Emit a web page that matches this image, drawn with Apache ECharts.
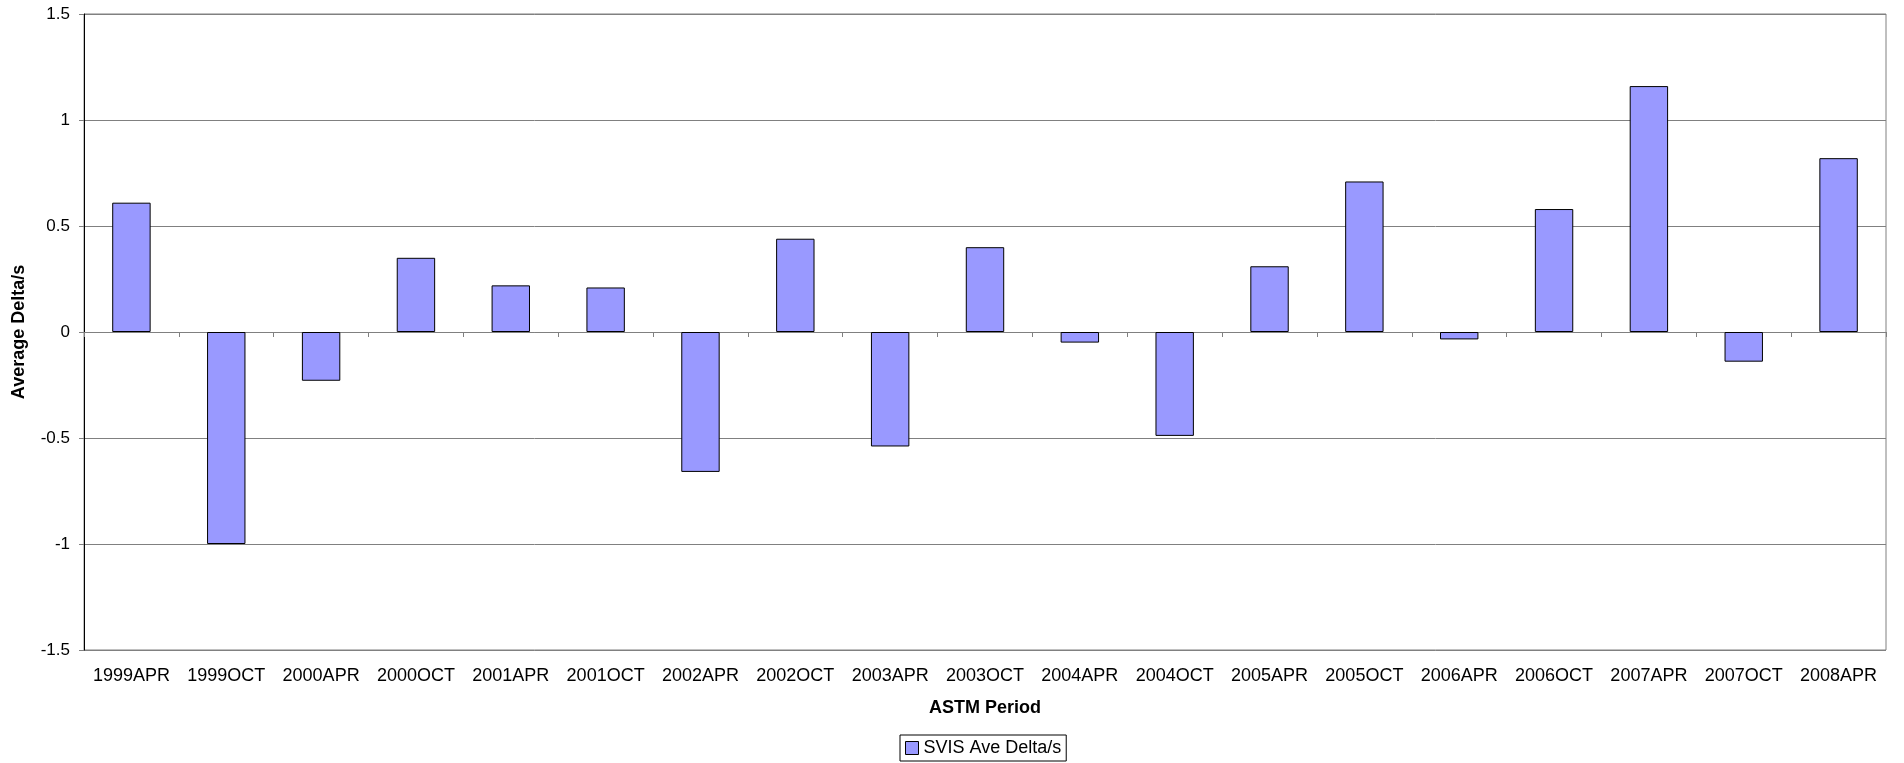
<!DOCTYPE html>
<html>
<head>
<meta charset="utf-8">
<script src="https://cdn.jsdelivr.net/npm/echarts@6/dist/echarts.min.js"></script>
<style>
html,body{margin:0;padding:0;background:#fff;}
#chart{width:1904px;height:763px;}
</style>
</head>
<body>
<div id="chart"></div>
<script>
const categories = ['1999APR','1999OCT','2000APR','2000OCT','2001APR','2001OCT','2002APR','2002OCT','2003APR','2003OCT','2004APR','2004OCT','2005APR','2005OCT','2006APR','2006OCT','2007APR','2007OCT','2008APR'];
const svisAveDelta = [0.61,-1.0,-0.23,0.35,0.22,0.21,-0.66,0.44,-0.54,0.40,-0.05,-0.49,0.31,0.71,-0.035,0.58,1.16,-0.14,0.82];
const seriesName = 'SVIS Ave Delta/s';
const xTitle = 'ASTM Period';
const yTitle = 'Average Delta/s';

const FONT = '"Liberation Sans", Arial, sans-serif';
const chart = echarts.init(document.getElementById('chart'));
chart.setOption({
  animation: false,
  backgroundColor: '#ffffff',
  grid: {
    left: 84, top: 14, width: 1802, height: 636,
    show: true, borderColor: '#808080', borderWidth: 1, backgroundColor: 'transparent'
  },
  legend: {
    left: 900, top: 735,
    data: [seriesName],
    icon: 'rect', itemWidth: 13, itemHeight: 13,
    padding: [4, 5, 4, 5],
    borderColor: '#000', borderWidth: 1,
    textStyle: { fontFamily: FONT, fontSize: 18, color: '#000' },
    itemStyle: { borderColor: '#000', borderWidth: 1 }
  },
  xAxis: [
    {
      type: 'category', data: categories, position: 'bottom',
      axisLine: { onZero: true, lineStyle: { color: '#808080', width: 1 } },
      axisTick: { show: true, length: 5, lineStyle: { color: '#808080' } },
      axisLabel: { show: false },
      splitLine: { show: false }
    },
    {
      type: 'category', data: categories, position: 'bottom',
      axisLine: { show: false, onZero: false },
      axisTick: { show: false },
      axisLabel: { show: true, fontFamily: FONT, fontSize: 18, color: '#000', margin: 17, interval: 0 },
      splitLine: { show: false },
      name: xTitle, nameLocation: 'middle', nameGap: 49,
      nameTextStyle: { fontFamily: FONT, fontSize: 18, fontWeight: 'bold', color: '#000' }
    }
  ],
  yAxis: {
    type: 'value', min: -1.5, max: 1.5, interval: 0.5,
    axisLine: { show: true, lineStyle: { color: '#000', width: 1 } },
    axisTick: { show: true, length: 5, lineStyle: { color: '#808080' } },
    axisLabel: { fontFamily: FONT, fontSize: 17, color: '#000', margin: 14 },
    splitLine: { show: true, lineStyle: { color: '#808080', width: 1 } },
    name: yTitle, nameLocation: 'middle', nameGap: 56, nameRotate: 90,
    nameTextStyle: { fontFamily: FONT, fontSize: 18, fontWeight: 'bold', color: '#000' }
  },
  series: [{
    name: seriesName, type: 'bar', xAxisIndex: 0, yAxisIndex: 0,
    data: svisAveDelta,
    barCategoryGap: '59.5%',
    itemStyle: { color: '#9999FF', borderColor: '#000', borderWidth: 1 }
  }]
});
</script>
</body>
</html>
